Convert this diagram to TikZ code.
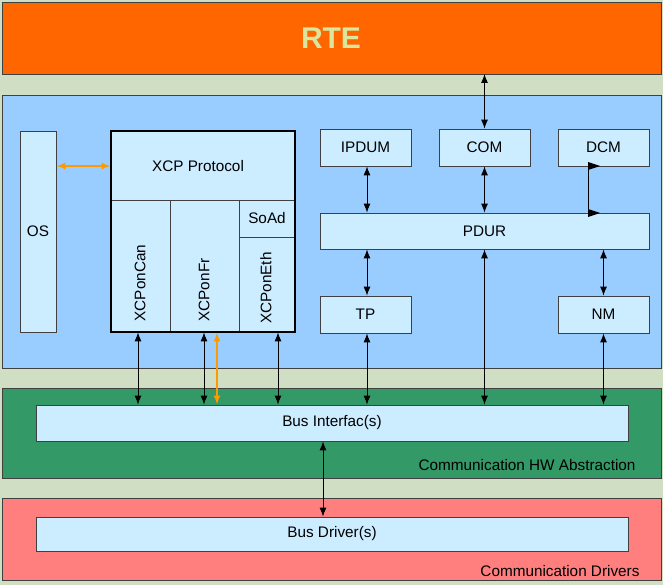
\documentclass[tikz,border=0pt]{standalone}
\usepackage{fontspec}
\setmainfont{Liberation Sans}
\usetikzlibrary{arrows.meta}
\definecolor{bgc}{HTML}{D0DFC4}
\definecolor{rtec}{HTML}{FF6600}
\definecolor{swc}{HTML}{99CCFF}
\definecolor{hwc}{HTML}{339966}
\definecolor{drvc}{HTML}{FF7F7F}
\definecolor{boxc}{HTML}{CCECFF}
\definecolor{xcpo}{HTML}{FF9900}
\newcommand{\lblfont}{\fontsize{15.3}{17}\selectfont}
\tikzset{
  box/.style={draw=black!75, fill=boxc, line width=0.8pt, inner sep=0pt, font=\lblfont},
  band/.style={draw=black!75, line width=0.8pt},
  link/.style={{Latex[length=9pt,width=7pt]}-{Latex[length=9pt,width=7pt]}, line width=0.9pt},
  olink/.style={link, draw=xcpo, line width=1.8pt}
}
\begin{document}
\begin{tikzpicture}[x=1pt,y=-1pt]
\fill[bgc](0,0) rectangle (663,585);
\useasboundingbox (0,0) rectangle (663,585);
% layers
\draw[band, fill=rtec](2,2) rectangle (661,74);
\node[text=bgc!80!yellow, font=\fontsize{30}{32}\bfseries] (rte) at (331,38){RTE};
\draw[band, fill=swc](2,95) rectangle (661,368);
\draw[band, fill=hwc](2,388) rectangle (661,478);
\node[anchor=east, font=\lblfont] (hwlbl) at (639,465){Communication HW Abstraction};
\draw[band, fill=drvc](2,498) rectangle (661,580);
\node[anchor=east, font=\lblfont] (drvlbl) at (643,571){Communication Drivers};
% modules
\node[box, minimum width=36pt, minimum height=201pt] (os) at (38,231.5){OS};
\node[box, draw=none, minimum width=184pt, minimum height=201pt] (xcp) at (203,231.5){};
\node[font=\lblfont] (proto) at (198,166){XCP Protocol};
\draw[black!75, line width=0.8pt](111,200) -- (295,200) (170,200) -- (170,332) (239,200) -- (239,332) (239,237) -- (295,237);
\node[font=\lblfont] (soad) at (267,218.5){SoAd};
\node[rotate=90, font=\lblfont] (can) at (140,283){XCPonCan};
\node[rotate=90, font=\lblfont] (fr) at (204,290){XCPonFr};
\node[rotate=90, font=\lblfont] (eth) at (266,288){XCPonEth};
\draw[line width=1.8pt](111,131) rectangle (295,332);
\node[box, minimum width=91pt, minimum height=37pt] (ipdum) at (365.5,147.5){IPDUM};
\node[box, minimum width=91pt, minimum height=37pt] (com) at (484.5,147.5){COM};
\node[box, minimum width=91pt, minimum height=37pt] (dcm) at (603.5,147.5){DCM};
\node[box, minimum width=329pt, minimum height=36pt] (pdur) at (484.5,231){PDUR};
\node[box, minimum width=91pt, minimum height=37pt] (tp) at (365.5,314.5){TP};
\node[box, minimum width=91pt, minimum height=37pt] (nm) at (603.5,314.5){NM};
\node[box, minimum width=592pt, minimum height=36pt] (bif) at (332,423){Bus Interfac(s)};
\node[box, minimum width=592pt, minimum height=34pt] (bdrv) at (332,534){Bus Driver(s)};
% connectors
\draw[link](com |- 0,74) -- (com);
\draw[link](ipdum.south -| 367,0) -- (pdur.north -| 367,0);
\draw[link](com) -- (pdur.north -| com);
\draw[link](pdur.south -| 367,0) -- (tp.north -| 367,0);
\draw[link](tp.south -| 367,0) -- (bif.north -| 367,0);
\draw[link](pdur.south -| com) -- (bif.north -| com);
\draw[link](pdur.south -| nm) -- (nm);
\draw[link](nm) -- (bif.north -| nm);
\draw[link](xcp.south -| 138,0) -- (bif.north -| 138,0);
\draw[link](xcp.south -| 204,0) -- (bif.north -| 204,0);
\draw[link](xcp.south -| 278,0) -- (bif.north -| 278,0);
\draw[olink](xcp.south -| 217,0) -- (bif.north -| 217,0);
\draw[olink](os.east |- proto) -- (xcp.west |- proto);
\draw[link](bif.south -| 323,0) -- (bdrv.north -| 323,0);
% DCM to PDUR
\draw[line width=0.9pt](dcm.south -| 588,0) -- (pdur.north -| 588,0);
\foreach \yy in {166,213}
  \fill (588,\yy-4) -- (600,\yy) -- (588,\yy+4) -- cycle;
\end{tikzpicture}
\end{document}
